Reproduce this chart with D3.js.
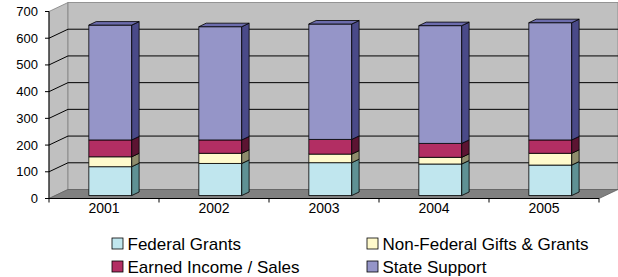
<!DOCTYPE html>
<html lang="en">
<head>
<meta charset="UTF-8">
<title>Funding sources 2001-2005</title>
<script src="https://cdn.jsdelivr.net/npm/d3@7"></script>
<style>
  body { margin: 0; background: #fff; }
  text { font-family: "Liberation Sans", Arial, sans-serif; fill: #000; }
</style>
</head>
<body>
<script>
// data
var years = ["2001", "2002", "2003", "2004", "2005"];
var federal = [108, 120, 123, 118, 114];
var nonFederal = [37, 38, 32, 25, 44];
var earned = [63, 50, 55, 52, 50];
var state = [430, 424, 432, 441, 439];
var seriesNames = ["Federal Grants", "Non-Federal Gifts & Grants", "Earned Income / Sales", "State Support"];
var yTicks = [0, 100, 200, 300, 400, 500, 600, 700];

var colors = ["#c0e6ee", "#fffacc", "#b22e63", "#9595c8"];
var sides = ["#5f9194", "#8e8c6c", "#5c1432", "#4a4a88"];
var tops = ["#9fc6cc", "#dedab0", "#8a2450", "#6c6cac"];

var w = 618, h = 277;
var depthX = 19, depthY = -9;       // full wall depth offset
var zFront = 0.33, zBack = 0.72;   // bar depth inside the floor

var svg = d3.select("body").append("svg").attr("width", w).attr("height", h);

var x = d3.scaleBand().domain(years).range([49, 599]).paddingInner(0.61).paddingOuter(0.305);
var y = d3.scaleLinear().domain([0, 700]).range([198.5, 11.5]);

function pt(px, v, z) { return [px + z * depthX, y(v) + z * depthY]; }
function poly(pts) { return pts.map(function(p) { return p.join(","); }).join(" "); }

var x0 = 49, x1 = 599;

// left wall
svg.append("polygon")
  .attr("points", poly([pt(x0, 700, 0), pt(x0, 700, 1), pt(x0, 0, 1), pt(x0, 0, 0)]))
  .attr("fill", "#c0c0c0").attr("stroke", "#808080").attr("stroke-width", 0.8);
// back wall
svg.append("polygon")
  .attr("points", poly([pt(x0, 700, 1), pt(x1, 700, 1), pt(x1, 0, 1), pt(x0, 0, 1)]))
  .attr("fill", "#c0c0c0").attr("stroke", "#808080").attr("stroke-width", 0.8);
// floor
svg.append("polygon")
  .attr("points", poly([pt(x0, 0, 0), pt(x1, 0, 0), pt(x1, 0, 1), pt(x0, 0, 1)]))
  .attr("fill", "#808080").attr("stroke", "#606060").attr("stroke-width", 0.8);

// gridlines
var grid = svg.append("g").attr("stroke", "#000").attr("stroke-width", 1).attr("fill", "none");
yTicks.filter(function(t) { return t > 0 && t < 700; }).forEach(function(t) {
  grid.append("polyline").attr("points", poly([pt(x0, t, 0), pt(x0, t, 1), pt(x1, t, 1)]));
});

// stacked 3d bars
var stacked = years.map(function(yr, i) {
  var vals = [federal[i], nonFederal[i], earned[i], state[i]];
  var base = 0;
  return vals.map(function(v, k) {
    var seg = { year: yr, k: k, lo: base, hi: base + v };
    base += v;
    return seg;
  });
});

var bw = x.bandwidth();
stacked.forEach(function(segs) {
  var g = svg.append("g").attr("stroke", "#000").attr("stroke-width", 0.8).attr("stroke-linejoin", "round");
  segs.forEach(function(s, k) {
    var L = x(s.year), R = x(s.year) + bw;
    g.append("polygon")
      .attr("points", poly([pt(L, s.lo, zFront), pt(R, s.lo, zFront), pt(R, s.hi, zFront), pt(L, s.hi, zFront)]))
      .attr("fill", colors[s.k]);
    g.append("polygon")
      .attr("points", poly([pt(R, s.lo, zFront), pt(R, s.lo, zBack), pt(R, s.hi, zBack), pt(R, s.hi, zFront)]))
      .attr("fill", sides[s.k]);
    if (k === segs.length - 1) {
      g.append("polygon")
        .attr("points", poly([pt(L, s.hi, zFront), pt(R, s.hi, zFront), pt(R, s.hi, zBack), pt(L, s.hi, zBack)]))
        .attr("fill", tops[s.k]);
    }
  });
});

// axes
var ax = svg.append("g").attr("stroke", "#000").attr("stroke-width", 1);
ax.append("line").attr("x1", x0).attr("x2", x0).attr("y1", y(700)).attr("y2", y(0));
ax.append("line").attr("x1", x0).attr("x2", x1).attr("y1", y(0)).attr("y2", y(0));
yTicks.forEach(function(t) {
  ax.append("line").attr("x1", x0 - 4).attr("x2", x0).attr("y1", y(t)).attr("y2", y(t));
});
var bounds = [x0].concat(years.map(function(yr) { return x(yr) + bw / 2 + x.step() / 2; }));
bounds.forEach(function(b) {
  ax.append("line").attr("x1", b).attr("x2", b).attr("y1", y(0)).attr("y2", y(0) + 4);
});

svg.selectAll(".ylab").data(yTicks).enter().append("text")
  .attr("class", "ylab")
  .attr("x", 38).attr("y", function(d) { return y(d) + 4.5; })
  .attr("text-anchor", "end").attr("font-size", "13px")
  .text(function(d) { return d; });

svg.selectAll(".xlab").data(years).enter().append("text")
  .attr("class", "xlab")
  .attr("x", function(d) { return x(d) + bw / 2; }).attr("y", 213)
  .attr("text-anchor", "middle").attr("font-size", "14px")
  .text(function(d) { return d; });

// legend
var legPos = [[112, 238], [367, 238], [112, 261], [367, 261]];
var leg = svg.selectAll(".leg").data(seriesNames).enter().append("g")
  .attr("class", "leg")
  .attr("transform", function(d, i) { return "translate(" + legPos[i][0] + "," + legPos[i][1] + ")"; });
leg.append("rect").attr("width", 11).attr("height", 11)
  .attr("fill", function(d, i) { return colors[i]; })
  .attr("stroke", "#000").attr("stroke-width", 0.8);
leg.append("text").attr("x", 15.5).attr("y", 12).attr("font-size", "17px")
  .text(function(d) { return d; });
</script>
</body>
</html>
